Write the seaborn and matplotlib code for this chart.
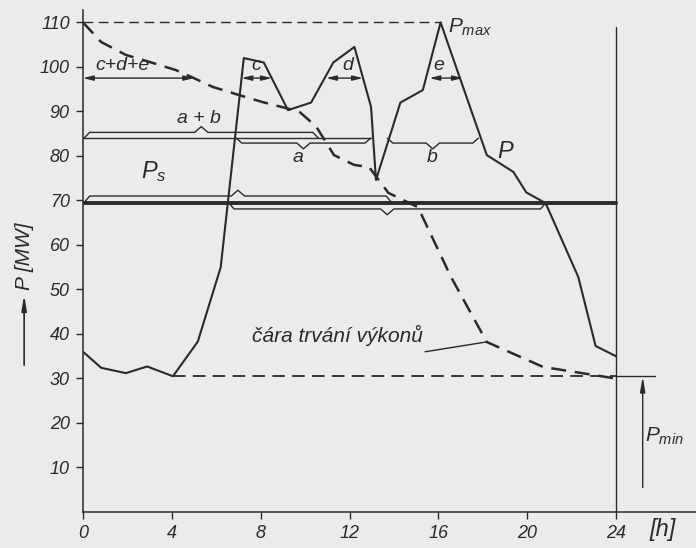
import numpy as np
import pandas as pd
import matplotlib
matplotlib.use('Agg')
import matplotlib.pyplot as plt
import seaborn as sns

# denni diagram zatizeni P(t)
hours_load = [0, 0.82, 1.93, 2.89, 4.05, 5.17, 6.2, 7.24, 8.14, 9.23, 10.27, 11.27, 12.22,
              12.97, 13.19, 14.29, 15.3, 16.1, 18.18, 19.38, 19.96, 20.83, 22.3, 23.08, 24]
p_load = [36, 32.4, 31.2, 32.7, 30.5, 38.3, 55, 102, 101, 90.3, 92, 101, 104.5,
          91, 74.6, 92, 94.8, 110, 80.2, 76.4, 71.8, 69.4, 52.8, 37.3, 35]

# cara trvani vykonu
hours_dur = [0, 0.82, 1.93, 3.08, 4.18, 4.99, 5.85, 7.02, 8.09, 9.73, 10.5, 11.3, 12.2,
             12.88, 13.75, 15.08, 16.57, 18.18, 20.71, 23.6, 24]
p_dur = [110, 105.6, 102.7, 101, 99.3, 97.5, 95.5, 93.7, 92.1, 90, 86.6, 80.2, 78,
         77.5, 71.7, 68.5, 52.8, 38.2, 32.6, 30.3, 30]

p_max = 110
p_min = 30.5
p_s = 69.5
p_ab = 84      # hladina a+b
p_cde = 97.5   # hladina c+d+e

# svorky (a+b, a, b, Ps nahore, Ps dole)
brace_from = [0.05, 6.9, 13.7, 0.05, 6.55]
brace_to = [10.6, 12.95, 17.8, 13.9, 20.85]
brace_level = [85.3, 82.9, 82.9, 71.0, 68.1]
brace_base = [84, 84, 84, 69.5, 69.5]

# sipky c+d+e, c, d, e
arrow_from = [0.0, 7.14, 10.95, 15.6]
arrow_to = [5.0, 8.5, 12.6, 17.1]
arrow_labels = ['c+d+e', 'c', 'd', 'e']
arrow_label_x = [1.8, 7.8, 11.9, 16.0]

x_ticks = [0, 4, 8, 12, 16, 20, 24]
y_ticks = [10, 20, 30, 40, 50, 60, 70, 80, 90, 100, 110]

ink = '#2a2a2a'
paper = '#ebebe9'

sns.set_style('ticks')
plt.rcParams['font.family'] = ['Liberation Sans', 'DejaVu Sans']
plt.rcParams['font.style'] = 'italic'
plt.rcParams['mathtext.fontset'] = 'custom'
plt.rcParams['mathtext.it'] = 'Liberation Sans:italic'
plt.rcParams['mathtext.rm'] = 'Liberation Sans:italic'

fig = plt.figure(figsize=(6.96, 5.48), dpi=100, facecolor=paper)
ax = fig.add_axes([83 / 696, 36 / 548, 613 / 696, 502 / 548])
ax.set_facecolor(paper)

load = pd.DataFrame({'h': hours_load, 'P': p_load})
dur = pd.DataFrame({'h': hours_dur, 'P': p_dur})
sns.lineplot(data=load, x='h', y='P', ax=ax, color=ink, lw=1.5, sort=False)
sns.lineplot(data=dur, x='h', y='P', ax=ax, color=ink, lw=1.8, sort=False,
             dashes=False, linestyle=(0, (6, 3.5)))

# Pmax, Pmin, Ps
ax.plot([0, 16.1], [p_max, p_max], color=ink, lw=1.0, ls=(0, (7, 4)))
ax.plot([4.05, 24], [p_min, p_min], color=ink, lw=1.3, ls=(0, (7, 4)))
ax.plot([24, 25.75], [p_min, p_min], color=ink, lw=1.0, clip_on=False)
ax.plot([0, 24], [p_s, p_s], color=ink, lw=2.8)
ax.plot([0, 12.95], [p_ab, p_ab], color=ink, lw=1.0)
ax.plot([24, 24], [0, 109], color=ink, lw=1.0)

# svorky
for x0, x1, lev, base in zip(brace_from, brace_to, brace_level, brace_base):
    s = np.sign(lev - base)
    xm = (x0 + x1) / 2
    xs = [x0, x0 + 0.25, xm - 0.3, xm, xm + 0.3, x1 - 0.25, x1]
    ys = [base, lev, lev, lev + s * 1.3, lev, lev, base]
    ax.plot(xs, ys, color=ink, lw=1.0)

# sipky
for x0, x1, lab, xl in zip(arrow_from, arrow_to, arrow_labels, arrow_label_x):
    ax.annotate('', xy=(x1, p_cde), xytext=(x0, p_cde),
                arrowprops=dict(arrowstyle='<|-|>,head_length=0.6,head_width=0.15',
                                color=ink, lw=1.0, shrinkA=0, shrinkB=0))
    ax.text(xl, p_cde + 1.0, lab, ha='center', va='bottom', fontsize=14, color=ink)

ax.text(5.2, 86.6, 'a + b', ha='center', va='bottom', fontsize=14, color=ink)
ax.text(9.7, 81.5, 'a', ha='center', va='top', fontsize=14, color=ink)
ax.text(15.7, 81.5, 'b', ha='center', va='top', fontsize=14, color=ink)
ax.text(3.2, 76.5, r'$P_s$', ha='center', va='center', fontsize=17, color=ink)
ax.text(19.0, 81, 'P', ha='center', va='center', fontsize=17, color=ink)
ax.text(16.45, 109, r'$P_{max}$', ha='left', va='center', fontsize=15, color=ink)
ax.text(25.3, 17, r'$P_{min}$', ha='left', va='center', fontsize=15, color=ink,
        clip_on=False)
ax.text(15.3, 37.2, 'čára trvání výkonů', ha='right', va='bottom', fontsize=15,
        color=ink)
ax.plot([15.4, 18.15], [36.0, 38.2], color=ink, lw=1.0)

ax.annotate('', xy=(25.2, p_min), xytext=(25.2, 5.5),
            arrowprops=dict(arrowstyle='-|>,head_length=0.9,head_width=0.15',
                            color=ink, lw=1.0, shrinkA=0, shrinkB=0),
            annotation_clip=False)

# popisek osy y se sipkou
ax.text(-2.65, 57.5, 'P [MW]', rotation=90, ha='center', va='center', fontsize=15,
        color=ink, clip_on=False)
ax.annotate('', xy=(-2.65, 48.8), xytext=(-2.65, 33.0),
            arrowprops=dict(arrowstyle='-|>,head_length=0.9,head_width=0.15',
                            color=ink, lw=1.2, shrinkA=0, shrinkB=0),
            annotation_clip=False)
ax.text(26.1, -4.0, '[h]', ha='center', va='center', fontsize=17, color=ink,
        clip_on=False)

ax.set_xlim(0, 27.6)
ax.set_ylim(0, 112.8)
ax.set_xticks(x_ticks)
ax.set_yticks(y_ticks)
ax.set_xticklabels([str(t) for t in x_ticks])
ax.set_yticklabels([str(t) for t in y_ticks])
ax.tick_params(axis='both', colors=ink, labelsize=13, length=5, width=1.0, pad=4.5)
ax.tick_params(axis='x', pad=4)
ax.set_xlabel('')
ax.set_ylabel('')
sns.despine(ax=ax)
for sp in ['left', 'bottom']:
    ax.spines[sp].set_color(ink)
    ax.spines[sp].set_linewidth(1.1)

fig.savefig('out.png', dpi=100, facecolor=paper)
